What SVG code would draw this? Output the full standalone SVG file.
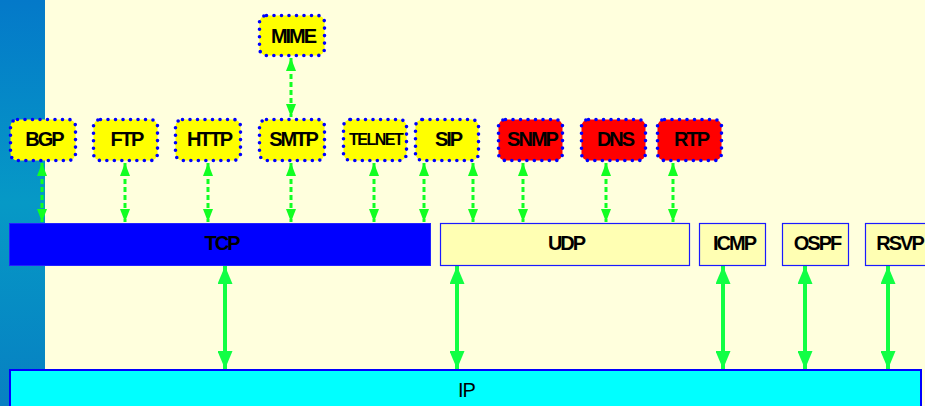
<svg xmlns="http://www.w3.org/2000/svg" width="925" height="406" viewBox="0 0 925 406">
  <defs>
    <linearGradient id="stripe" x1="0" y1="0" x2="0" y2="1">
      <stop offset="0" stop-color="#0479C9"/>
      <stop offset="0.5" stop-color="#0699C6"/>
      <stop offset="1" stop-color="#0780C2"/>
    </linearGradient>
    <marker id="ah" viewBox="0 0 13 10" refX="13" refY="5" markerWidth="13" markerHeight="10" markerUnits="userSpaceOnUse" orient="auto-start-reverse">
      <path d="M0,0 L13,5 L0,10 z" fill="#11FF22"/>
    </marker>
    <marker id="ahs" viewBox="0 0 18 15" refX="18" refY="7.5" markerWidth="18" markerHeight="15" markerUnits="userSpaceOnUse" orient="auto-start-reverse">
      <path d="M0,0 L18,7.5 L0,15 z" fill="#11FF44"/>
    </marker>
  </defs>
  <style>
    .app rect { stroke: #0000FF; stroke-width: 3.6; stroke-dasharray: 0 7.5; stroke-linecap: round; }
    .yel rect { fill: #FFFF00; }
    .red rect { fill: #FF0000; }
    text { font-family: "Liberation Sans", Arial, sans-serif; font-weight: bold; font-size: 20px; letter-spacing: -2px; text-anchor: middle; fill: #000; }
    .layer rect { fill: #FFFFB3; stroke: #1A1AFF; stroke-width: 1.2; }
    .dash { stroke: #11FF22; stroke-width: 3; stroke-dasharray: 5 3; fill: none; marker-start: url(#ah); marker-end: url(#ah); }
    .solid { stroke: #11FF44; stroke-width: 4; fill: none; marker-start: url(#ahs); marker-end: url(#ahs); }
  </style>

  <rect x="0" y="0" width="925" height="406" fill="#FFFFDD"/>
  <rect x="0" y="0" width="45" height="406" fill="url(#stripe)"/>

  <g id="connectors">
    <line class="dash" x1="291" y1="58" x2="291" y2="117"/>
    <line class="dash" x1="42" y1="163" x2="42" y2="222"/>
    <line class="dash" x1="125" y1="163" x2="125" y2="222"/>
    <line class="dash" x1="208" y1="163" x2="208" y2="222"/>
    <line class="dash" x1="291" y1="163" x2="291" y2="222"/>
    <line class="dash" x1="374" y1="163" x2="374" y2="222"/>
    <line class="dash" x1="424" y1="163" x2="424" y2="222"/>
    <line class="dash" x1="473" y1="163" x2="473" y2="222"/>
    <line class="dash" x1="523" y1="163" x2="523" y2="222"/>
    <line class="dash" x1="606" y1="163" x2="606" y2="222"/>
    <line class="dash" x1="673" y1="163" x2="673" y2="222"/>
    <line class="solid" x1="225" y1="266" x2="225" y2="369"/>
    <line class="solid" x1="457" y1="266" x2="457" y2="369"/>
    <line class="solid" x1="723" y1="266" x2="723" y2="369"/>
    <line class="solid" x1="805" y1="266" x2="805" y2="369"/>
    <line class="solid" x1="888" y1="266" x2="888" y2="369"/>
  </g>

  <g id="MIME" class="app yel"><rect x="259.5" y="15.5" width="65" height="40" rx="7"/><text x="293" y="42.5">MIME</text></g>
  <g id="BGP" class="app yel"><rect x="10.5" y="119.5" width="65" height="41" rx="7"/><text x="44" y="145.5">BGP</text></g>
  <g id="FTP" class="app yel"><rect x="93.5" y="119.5" width="64" height="41" rx="7"/><text x="126.5" y="145.5">FTP</text></g>
  <g id="HTTP" class="app yel"><rect x="175.5" y="119.5" width="65" height="41" rx="7"/><text x="209" y="145.5">HTTP</text></g>
  <g id="SMTP" class="app yel"><rect x="259.5" y="119.5" width="65" height="41" rx="7"/><text x="293" y="145.5">SMTP</text></g>
  <g id="TELNET" class="app yel"><rect x="343.5" y="119.5" width="63" height="41" rx="7"/><text x="375.6" y="145" style="font-size:16px;letter-spacing:-1.5px">TELNET</text></g>
  <g id="SIP" class="app yel"><rect x="415.5" y="119.5" width="63" height="41" rx="7"/><text x="448" y="145.5">SIP</text></g>
  <g id="SNMP" class="app red"><rect x="498.5" y="119.5" width="64" height="41" rx="7"/><text x="532" y="145.5">SNMP</text></g>
  <g id="DNS" class="app red"><rect x="581.5" y="119.5" width="64" height="41" rx="7"/><text x="615" y="145.5">DNS</text></g>
  <g id="RTP" class="app red"><rect x="657.5" y="119.5" width="64" height="41" rx="7"/><text x="691" y="145.5">RTP</text></g>

  <g id="TCP"><rect x="9.5" y="223.5" width="421" height="42" fill="#0000FF" stroke="#2222FF"/><text x="221.5" y="249.5">TCP</text></g>
  <g id="UDP" class="layer"><rect x="440.5" y="223.5" width="249" height="42"/><text x="566" y="250">UDP</text></g>
  <g id="ICMP" class="layer"><rect x="699.5" y="223.5" width="66" height="42"/><text x="734" y="250">ICMP</text></g>
  <g id="OSPF" class="layer"><rect x="782.5" y="223.5" width="66" height="42"/><text x="817" y="250">OSPF</text></g>
  <g id="RSVP" class="layer"><rect x="865.5" y="223.5" width="70" height="42"/><text x="899.5" y="250">RSVP</text></g>
  <g id="IP"><rect x="10" y="370" width="911" height="50" fill="#00FFFF" stroke="#0000FF" stroke-width="2"/><text x="466.5" y="397" style="font-weight:normal;font-size:20px;letter-spacing:-1px">IP</text></g>
</svg>
